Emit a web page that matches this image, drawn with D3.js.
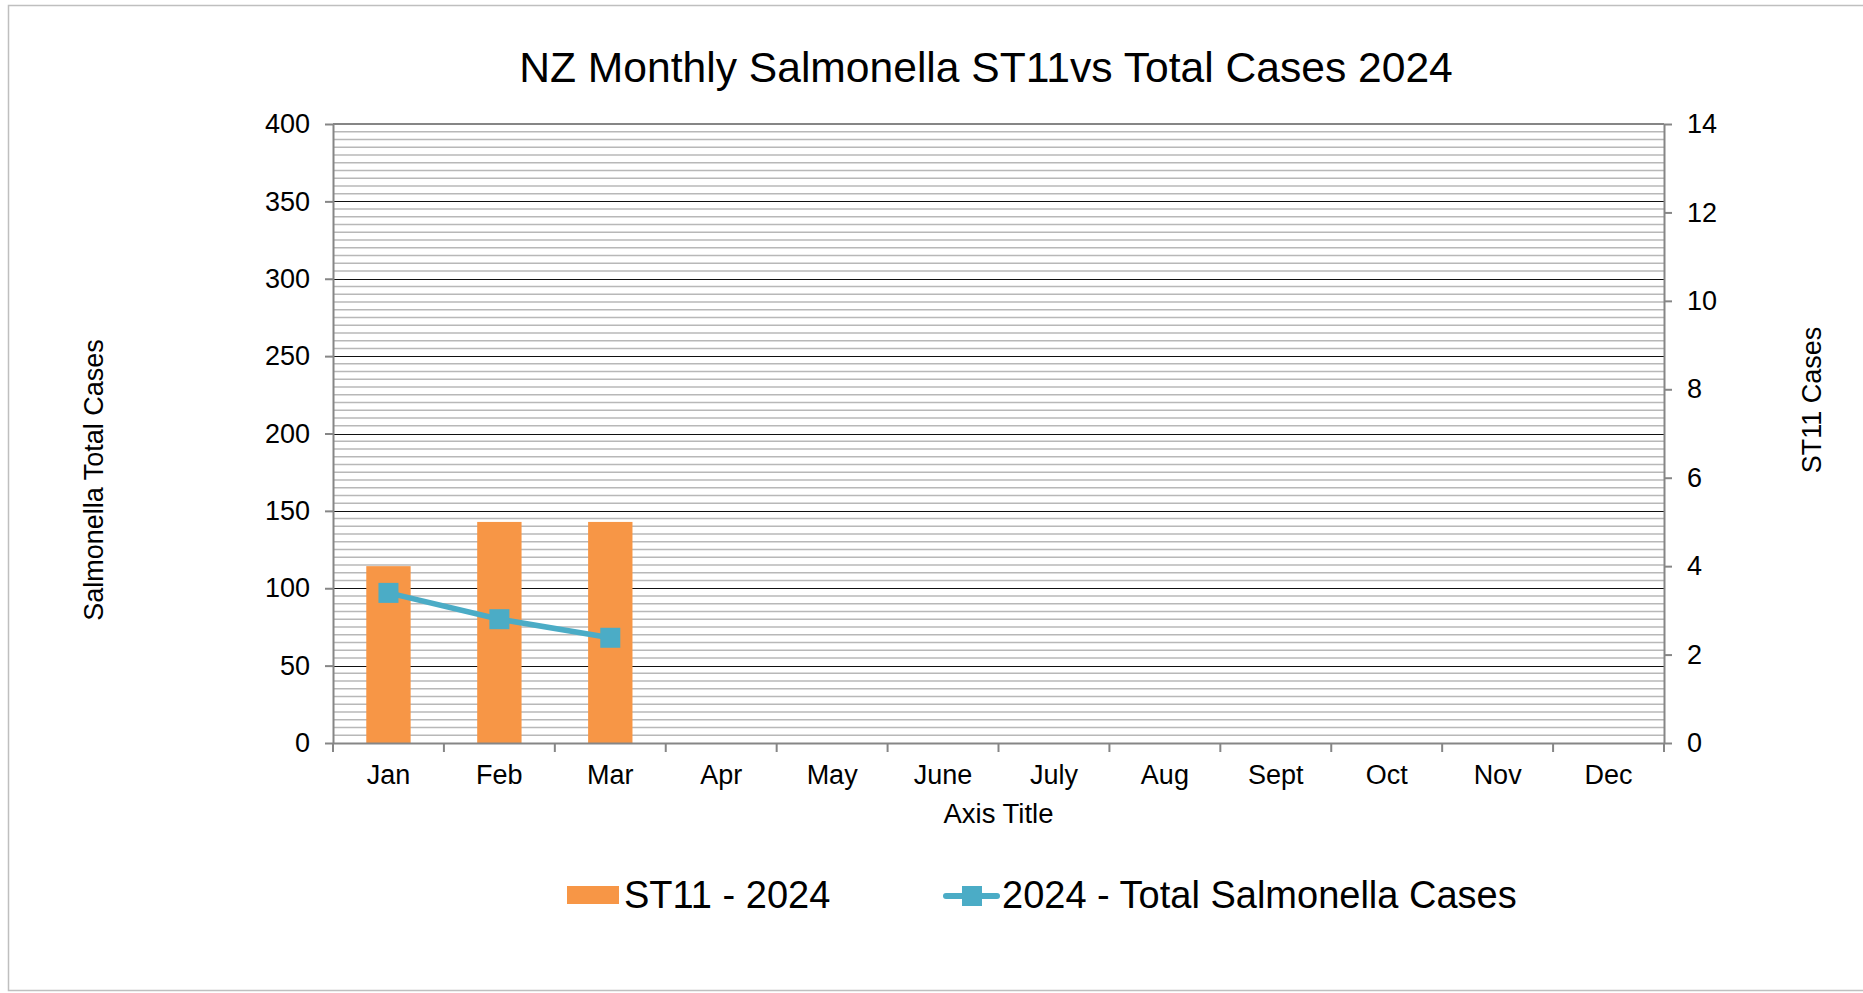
<!DOCTYPE html>
<html>
<head>
<meta charset="utf-8">
<script src="https://cdn.jsdelivr.net/npm/d3@7"></script>
<style>
  body { margin: 0; background: #fff; }
  svg { display: block; font-family: 'Liberation Sans', Arial, sans-serif; }
  .axis text { fill: #000; }
</style>
</head>
<body>
<svg id="chart" width="1863" height="993"></svg>
<script>
const MONTHS = ['Jan', 'Feb', 'Mar', 'Apr', 'May', 'June', 'July', 'Aug', 'Sept', 'Oct', 'Nov', 'Dec']
const ST11_2024 = [4, 5, 5]
const TOTAL_2024 = [97, 80, 68]
const LEFT_TICKS = [0, 50, 100, 150, 200, 250, 300, 350, 400]
const RIGHT_TICKS = [0, 2, 4, 6, 8, 10, 12, 14]

const ORANGE = '#f79646'
const BLUE = '#4bacc6'
const AXIS_GREY = '#868686'

const svg = d3.select('#chart')
const margins = {top: 124, right: 199, bottom: 250, left: 333}
const width = 1863 - margins.left - margins.right
const height = 993 - margins.top - margins.bottom

// outer chart frame
svg.append('rect')
  .attr('x', 8.5).attr('y', 5.5)
  .attr('width', 1880).attr('height', 985)
  .attr('fill', 'none')
  .attr('stroke', '#bfbfbf')
  .attr('stroke-width', 1.5)

const g = svg.append('g')
  .attr('transform', `translate(${margins.left}, ${margins.top})`)

const x = d3.scaleBand().domain(MONTHS).range([0, width]).padding(0)
const yLeft = d3.scaleLinear().domain([0, 400]).range([height, 0])
const yRight = d3.scaleLinear().domain([0, 14]).range([height, 0])

// minor grid every 5, major every 50
g.append('g')
  .selectAll('line')
  .data(d3.range(5, 400, 5).filter((v) => v % 50 !== 0))
  .enter()
  .append('line')
  .attr('x1', 0).attr('x2', width)
  .attr('y1', (d) => yLeft(d)).attr('y2', (d) => yLeft(d))
  .attr('stroke', '#b8b8b8')
  .attr('stroke-width', 1.5)

g.append('g')
  .selectAll('line')
  .data(LEFT_TICKS.filter((v) => v > 0 && v < 400))
  .enter()
  .append('line')
  .attr('x1', 0).attr('x2', width)
  .attr('y1', (d) => Math.round(yLeft(d)) + 0.5).attr('y2', (d) => Math.round(yLeft(d)) + 0.5)
  .attr('stroke', '#111')
  .attr('stroke-width', 1)

// top border of plot
g.append('line')
  .attr('x1', 0).attr('x2', width)
  .attr('y1', 0).attr('y2', 0)
  .attr('stroke', AXIS_GREY)
  .attr('stroke-width', 2)

// bars (right axis)
const barW = x.bandwidth() * 0.4
g.append('g')
  .selectAll('rect')
  .data(ST11_2024)
  .enter()
  .append('rect')
  .attr('x', (d, i) => x(MONTHS[i]) + (x.bandwidth() - barW) / 2)
  .attr('y', (d) => yRight(d))
  .attr('width', barW)
  .attr('height', (d) => height - yRight(d))
  .attr('fill', ORANGE)

// line (left axis)
const line = d3.line()
  .x((d, i) => x(MONTHS[i]) + x.bandwidth() / 2)
  .y((d) => yLeft(d))

g.append('path')
  .datum(TOTAL_2024)
  .attr('d', line)
  .attr('fill', 'none')
  .attr('stroke', BLUE)
  .attr('stroke-width', 5.5)
  .attr('stroke-linejoin', 'round')

g.append('g')
  .selectAll('rect')
  .data(TOTAL_2024)
  .enter()
  .append('rect')
  .attr('x', (d, i) => x(MONTHS[i]) + x.bandwidth() / 2 - 10)
  .attr('y', (d) => yLeft(d) - 10)
  .attr('width', 20)
  .attr('height', 20)
  .attr('fill', BLUE)

// axes
function styleAxis(sel) {
  sel.select('.domain').attr('stroke', AXIS_GREY).attr('stroke-width', 2)
  sel.selectAll('.tick line').attr('stroke', AXIS_GREY).attr('stroke-width', 2)
  sel.selectAll('text').attr('font-size', '27px').attr('font-family', "'Liberation Sans', Arial, sans-serif")
}

g.append('g')
  .attr('class', 'axis axis--left')
  .call(d3.axisLeft(yLeft).tickValues(LEFT_TICKS).tickSize(8).tickPadding(15).tickSizeOuter(0))
  .call(styleAxis)

g.append('g')
  .attr('class', 'axis axis--right')
  .attr('transform', `translate(${width}, 0)`)
  .call(d3.axisRight(yRight).tickValues(RIGHT_TICKS).tickSize(8).tickPadding(15).tickSizeOuter(0))
  .call(styleAxis)

const xAxis = g.append('g')
  .attr('class', 'axis axis--x')
  .attr('transform', `translate(0, ${height})`)
  .call(d3.axisBottom(x).tickSize(0).tickPadding(22))
  .call(styleAxis)

xAxis.selectAll('.tick-mark')
  .data(d3.range(MONTHS.length + 1))
  .enter()
  .append('line')
  .attr('class', 'tick-mark')
  .attr('x1', (d) => d * x.step()).attr('x2', (d) => d * x.step())
  .attr('y1', 0).attr('y2', 9)
  .attr('stroke', AXIS_GREY)
  .attr('stroke-width', 2)

// titles
svg.append('text')
  .attr('x', 986).attr('y', 82)
  .attr('text-anchor', 'middle')
  .attr('font-size', '42.6px')
  .text('NZ Monthly Salmonella ST11vs Total Cases 2024')

svg.append('text')
  .attr('x', margins.left + width / 2).attr('y', 823)
  .attr('text-anchor', 'middle')
  .attr('font-size', '27.5px')
  .text('Axis Title')

svg.append('text')
  .attr('transform', 'translate(103, 480) rotate(-90)')
  .attr('text-anchor', 'middle')
  .attr('font-size', '27px')
  .text('Salmonella Total Cases')

svg.append('text')
  .attr('transform', 'translate(1821, 400) rotate(-90)')
  .attr('text-anchor', 'middle')
  .attr('font-size', '27px')
  .text('ST11 Cases')

// legend
const legend = svg.append('g').attr('class', 'legend')
legend.append('rect')
  .attr('x', 567).attr('y', 886)
  .attr('width', 52).attr('height', 18)
  .attr('fill', ORANGE)
legend.append('text')
  .attr('x', 624).attr('y', 908)
  .attr('font-size', '38px')
  .text('ST11 - 2024')

legend.append('line')
  .attr('x1', 946).attr('x2', 997)
  .attr('y1', 896).attr('y2', 896)
  .attr('stroke', BLUE)
  .attr('stroke-width', 6)
  .attr('stroke-linecap', 'round')
legend.append('rect')
  .attr('x', 962).attr('y', 886)
  .attr('width', 20).attr('height', 20)
  .attr('fill', BLUE)
legend.append('text')
  .attr('x', 1002).attr('y', 908)
  .attr('font-size', '38px')
  .text('2024 - Total Salmonella Cases')
</script>
</body>
</html>
